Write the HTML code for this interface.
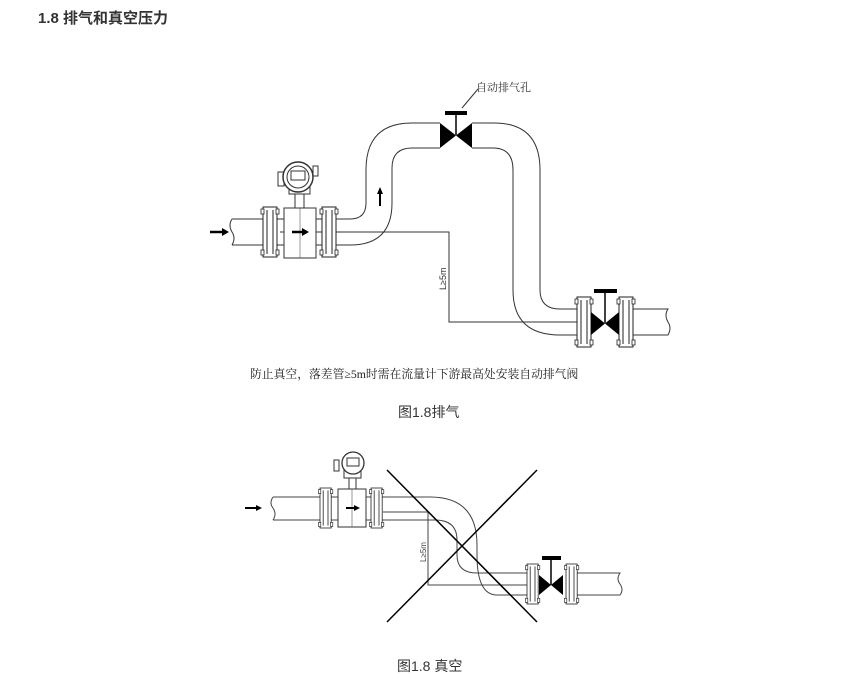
<!DOCTYPE html>
<html><head><meta charset="utf-8"><style>
body{margin:0;background:#fff;width:865px;height:679px;overflow:hidden;font-family:"Liberation Sans","Noto Sans CJK SC",sans-serif}
svg{position:absolute;left:0;top:0}
</style></head><body>
<svg width="865" height="679" viewBox="0 0 865 679" xmlns="http://www.w3.org/2000/svg">
<defs>
<g id="fl">
 <rect x="0" y="0" width="14" height="50" fill="#fff" stroke="#222" stroke-width="1"/>
 <line x1="4" y1="3" x2="4" y2="47" stroke="#222"/>
 <line x1="10" y1="3" x2="10" y2="47" stroke="#222"/>
 <rect x="-2" y="2" width="3" height="5" fill="#fff" stroke="#222" stroke-width=".8"/>
 <rect x="13" y="2" width="3" height="5" fill="#fff" stroke="#222" stroke-width=".8"/>
 <rect x="-2" y="43" width="3" height="5" fill="#fff" stroke="#222" stroke-width=".8"/>
 <rect x="13" y="43" width="3" height="5" fill="#fff" stroke="#222" stroke-width=".8"/>
</g>
</defs>
<text x="38" y="23" font-size="15" font-weight="bold" fill="#333">1.8 排气和真空压力</text>

<g fill="none" stroke="#333" stroke-width="1">
 <path d="M232 219 L350 219 Q366 219 366 203 L366 170 Q366 123 412 123 L440 123"/>
 <path d="M232 245 L350 245 Q392 245 392 203 L392 168 Q392 148 412 148 L440 148"/>
 <path d="M232 219 q-4 6 0 13 q4 6 0 13"/>
 <path d="M472 123 L494 123 Q540 123 540 170 L540 290 Q540 309 560 309 L577 309"/>
 <path d="M472 148 L493 148 Q513 148 513 170 L513 290 Q513 335 560 335 L577 335"/>
 <path d="M633 309 L668 309 q-4 6 0 13 q4 6 0 13 L633 335"/>
 <path d="M280 232 L449 232 L449 322 L580 322"/>
 <line x1="462" y1="108" x2="478" y2="89"/>
</g>
<path d="M210 232 L223 232" stroke="#000" stroke-width="2.5"/><path d="M222 228 L229 232 L222 236 Z" fill="#000"/>
<rect x="284" y="208" width="32" height="50" fill="#fff" stroke="#333"/>
<line x1="300" y1="208" x2="300" y2="258" stroke="#555" stroke-width=".6"/>
<path d="M292 232 L303 232" stroke="#000" stroke-width="2.5"/><path d="M302 228 L309 232 L302 236 Z" fill="#000"/>
<rect x="295" y="193" width="9" height="15" fill="#fff" stroke="#333"/>
<rect x="289" y="183" width="21" height="11" fill="#fff" stroke="#333"/>
<rect x="278" y="172" width="6" height="14" fill="#fff" stroke="#333"/>
<rect x="313" y="166" width="5" height="10" fill="#fff" stroke="#333"/>
<circle cx="298" cy="177" r="15" fill="#fff" stroke="#333" stroke-width="1.5"/>
<circle cx="298" cy="177" r="11" fill="#fff" stroke="#333"/>
<rect x="291" y="171" width="14" height="9" fill="#fff" stroke="#333"/>
<use href="#fl" x="263" y="207"/>
<use href="#fl" x="322" y="207"/>
<path d="M380 206 L380 193" stroke="#000" stroke-width="2"/><path d="M377 194 L380 187 L383 194 Z" fill="#000"/>
<path d="M440 123 L472 148 L472 123 L440 148 Z" fill="#000"/>
<line x1="456" y1="113" x2="456" y2="135" stroke="#000" stroke-width="1.5"/>
<rect x="445" y="111" width="22" height="4" fill="#000"/>
<text x="476" y="91" font-size="11" fill="#333" font-family="'Liberation Serif','Noto Serif CJK SC',serif">自动排气孔</text>
<text transform="translate(446,290) rotate(-90)" font-size="9" fill="#333">L≥5m</text>
<use href="#fl" x="577" y="297"/>
<use href="#fl" x="619" y="297"/>
<path d="M591 312 L619 335 L619 312 L591 335 Z" fill="#000"/>
<line x1="605" y1="292" x2="605" y2="323" stroke="#000" stroke-width="1.5"/>
<rect x="594" y="289" width="23" height="4" fill="#000"/>
<text x="250" y="378" font-size="11.8" fill="#222" font-family="'Liberation Serif','Noto Serif CJK SC',serif">防止真空，落差管≥5m时需在流量计下游最高处安装自动排气阀</text>
<text x="398" y="417" font-size="14" fill="#333">图1.8排气</text>

<g fill="none" stroke="#444" stroke-width="1">
 <path d="M273 497 L430 497 Q477 497 477 545 L477 555 Q477 595 497 595 L528 595"/>
 <path d="M273 520 L435 520 Q457 520 457 540 L457 555 Q457 573 477 573 L528 573"/>
 <path d="M273 497 q-4 6 0 11 q4 6 0 12"/>
 <path d="M577 573 L620 573 q-4 6 0 11 q4 6 0 11 L577 595"/>
 <path d="M383 512 L428 512 L428 585 L530 585"/>
</g>
<path d="M245 508 L257 508" stroke="#000" stroke-width="2"/><path d="M256 505 L262 508 L256 511 Z" fill="#000"/>
<rect x="338" y="489" width="28" height="38" fill="#fff" stroke="#333"/>
<line x1="352" y1="489" x2="352" y2="527" stroke="#555" stroke-width=".6"/>
<path d="M346 508 L355 508" stroke="#000" stroke-width="2"/><path d="M354 505 L360 508 L354 511 Z" fill="#000"/>
<rect x="349" y="477" width="7" height="12" fill="#fff" stroke="#333"/>
<rect x="344" y="469" width="17" height="9" fill="#fff" stroke="#333"/>
<rect x="334" y="460" width="5" height="11" fill="#fff" stroke="#333"/>
<circle cx="353" cy="463" r="11" fill="#fff" stroke="#333" stroke-width="1.3"/>
<rect x="347" y="458" width="12" height="8" fill="#fff" stroke="#333"/>
<g transform="translate(320,488) scale(0.8,0.8)"><use href="#fl"/></g>
<g transform="translate(371,488) scale(0.8,0.8)"><use href="#fl"/></g>
<g transform="translate(527,564) scale(0.8,0.8)"><use href="#fl"/></g>
<g transform="translate(566,564) scale(0.8,0.8)"><use href="#fl"/></g>
<path d="M539 575 L563 595 L563 575 L539 595 Z" fill="#000"/>
<line x1="551" y1="558" x2="551" y2="585" stroke="#000" stroke-width="1.5"/>
<rect x="542" y="556" width="19" height="4" fill="#000"/>
<text transform="translate(426,562) rotate(-90)" font-size="8" fill="#444">L≥5m</text>
<line x1="387" y1="470" x2="537" y2="622" stroke="#000" stroke-width="1.5"/>
<line x1="537" y1="470" x2="387" y2="622" stroke="#000" stroke-width="1.5"/>
<text x="397" y="671" font-size="14" fill="#333">图1.8 真空</text>
</svg>
</body></html>
